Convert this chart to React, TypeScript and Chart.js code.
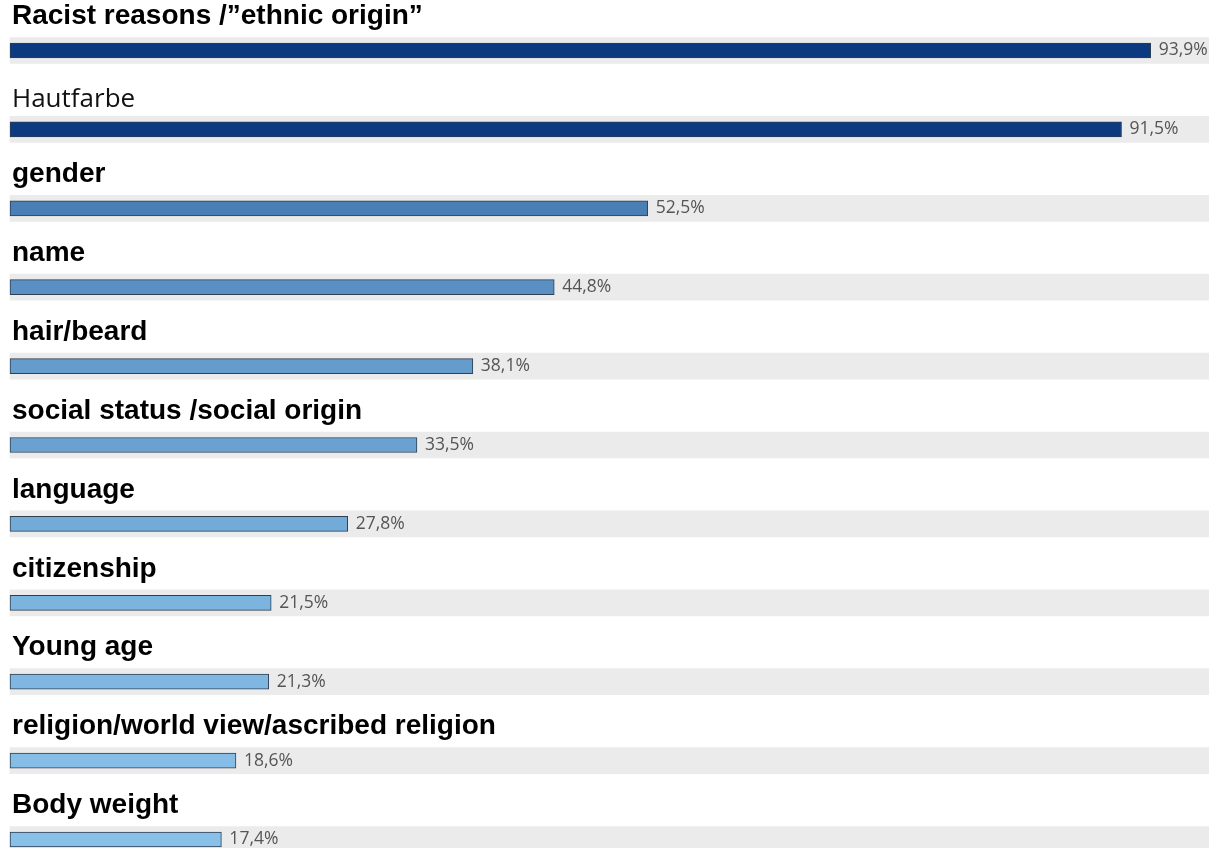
import React, { useEffect, useRef } from "react";
import { Chart, registerables } from "chart.js";

Chart.register(...registerables);

const categories = [
  "Racist reasons /\u201Dethnic origin\u201D",
  "Hautfarbe",
  "gender",
  "name",
  "hair/beard",
  "social status /social origin",
  "language",
  "citizenship",
  "Young age",
  "religion/world view/ascribed religion",
  "Body weight",
];

const values = [93.9, 91.5, 52.5, 44.8, 38.1, 33.5, 27.8, 21.5, 21.3, 18.6, 17.4];
const valueLabels = ["93,9%", "91,5%", "52,5%", "44,8%", "38,1%", "33,5%", "27,8%", "21,5%", "21,3%", "18,6%", "17,4%"];
const barColors = [
  "#0c3a80", "#0c3a80", "#4a7fb6", "#5a8fc4", "#659ccb", "#6aa1d0",
  "#72aad8", "#7cb4e0", "#80b7e2", "#86bde6", "#89c0e8",
];
const axisMax = 98.7;
const trackValues = categories.map(() => axisMax);

export default function App() {
  const ref = useRef<HTMLCanvasElement>(null);
  useEffect(() => {
    document.body.style.margin = "0";
    const labelPlugin = {
      id: "rowLabels",
      afterDatasetsDraw(chart: any) {
        const ctx = chart.ctx;
        const meta = chart.getDatasetMeta(1);
        ctx.save();
        meta.data.forEach((bar: any, i: number) => {
          const y = bar.y;
          if (i === 1) {
            ctx.font = "400 26px 'Open Sans'";
            ctx.fillStyle = "#111111";
          } else {
            ctx.font = "bold 28px 'Liberation Sans', Arial";
            ctx.fillStyle = "#000000";
          }
          ctx.textBaseline = "middle";
          ctx.textAlign = "left";
          ctx.fillText(categories[i], 12, y - (i === 1 ? 30 : 34));
          ctx.font = "400 17.5px 'Open Sans'";
          ctx.fillStyle = "#555555";
          ctx.fillText(valueLabels[i], bar.x + 8, y);
        });
        ctx.restore();
      },
    };
    const chart = new Chart(ref.current!, {
      type: "bar",
      data: {
        labels: categories,
        datasets: [
          {
            data: trackValues,
            backgroundColor: "#ebebeb",
            borderWidth: 0,
            barThickness: 26,
            grouped: false,
            order: 2,
            clip: false,
          },
          {
            data: values,
            backgroundColor: barColors,
            borderColor: "#2e3f52",
            borderWidth: 1,
            borderSkipped: false,
            barThickness: 15,
            grouped: false,
            order: 1,
            clip: false,
          },
        ],
      },
      options: {
        indexAxis: "y",
        animation: false,
        responsive: false,
        maintainAspectRatio: false,
        layout: { padding: { left: 10, right: 0, top: 50.5, bottom: 8.5 } },
        plugins: { legend: { display: false }, tooltip: { enabled: false } },
        scales: {
          x: { display: false, min: 0, max: axisMax },
          y: { display: false, offset: false, grid: { offset: false } },
        },
      },
      plugins: [labelPlugin],
    });
    return () => chart.destroy();
  }, []);
  return <canvas ref={ref} width={1209} height={848} style={{ display: "block" }} />;
}
